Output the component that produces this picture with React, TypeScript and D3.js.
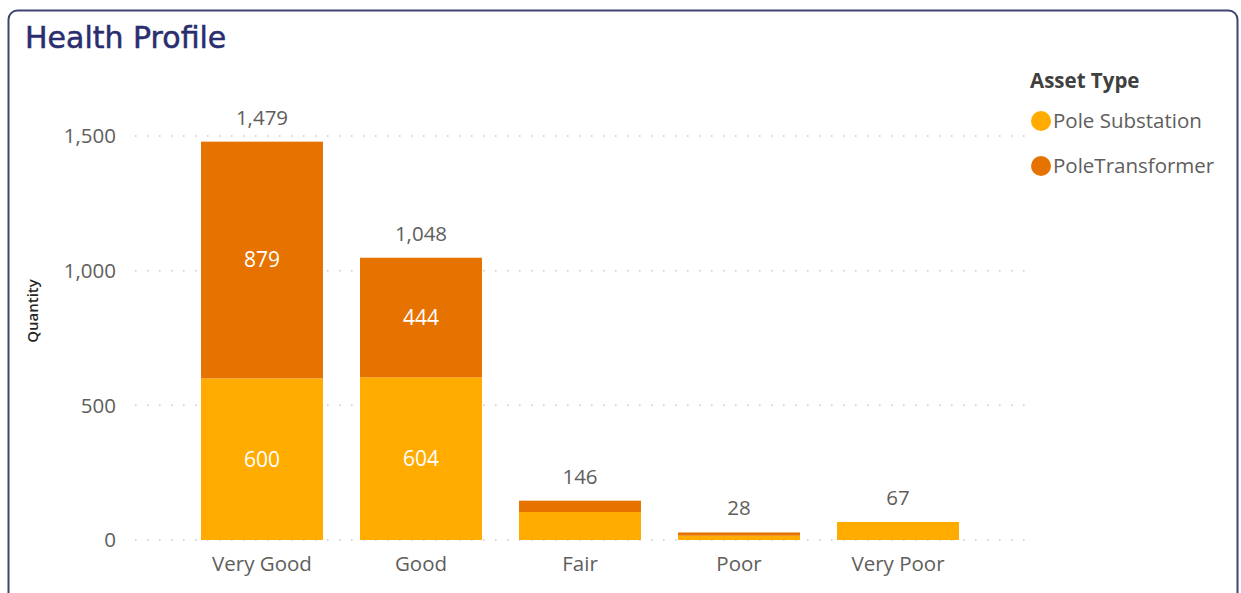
import React from "react";
import * as d3 from "d3";

const categories = ["Very Good", "Good", "Fair", "Poor", "Very Poor"];
const poleSubstation = [600, 604, 104, 16, 67];
const poleTransformer = [879, 444, 42, 12, 0];
const totals = [1479, 1048, 146, 28, 67];
const yTicks = [0, 500, 1000, 1500];
const seriesNames = ["Pole Substation", "PoleTransformer"];
const seriesColors = ["#FFAB00", "#E67300"];

const W = 1241;
const H = 593;
const FONT = "'Open Sans', 'Noto Sans', sans-serif";
const FS = 20.5;

export default function App() {
  const x = d3
    .scaleBand<string>()
    .domain(categories)
    .range([182.5, 977.5])
    .paddingInner(0.233)
    .paddingOuter(0.1165);
  const y = d3.scaleLinear().domain([0, 1500]).range([540, 136]);
  const fmt = d3.format(",");

  const rows = categories.map((c, i) => ({
    cat: c,
    "Pole Substation": poleSubstation[i],
    PoleTransformer: poleTransformer[i],
  }));
  const stacked = d3.stack<any>().keys(seriesNames)(rows);

  return (
    <svg
      width={W}
      height={H}
      style={{ position: "fixed", left: 0, top: 0, background: "#fff" }}
    >
      <rect
        x={8.5}
        y={10.5}
        width={1229}
        height={640}
        rx={9}
        fill="#fff"
        stroke="#3E4372"
        strokeWidth={2}
      />
      <text
        x={25}
        y={48}
        fontFamily="'DejaVu Sans', sans-serif"
        fontSize={30}
        fill="#2A2D6E"
        stroke="#2A2D6E"
        strokeWidth={0.5}
      >
        Health Profile
      </text>

      {/* gridlines */}
      {yTicks.map((t) => (
        <g key={t}>
          <line
            x1={135}
            x2={1028}
            y1={y(t)}
            y2={y(t)}
            stroke="#C8C8C8"
            strokeWidth={1.5}
            strokeDasharray="1.5,10.5"
          />
          <text
            x={116}
            y={y(t)}
            dy="0.35em"
            textAnchor="end"
            fontFamily={FONT}
            fontSize={FS}
            fill="#605E5C"
          >
            {fmt(t)}
          </text>
        </g>
      ))}

      <text
        transform={`translate(38,311) rotate(-90)`}
        textAnchor="middle"
        fontFamily={FONT}
        fontSize={15}
        fontWeight={600}
        fill="#252423"
      >
        Quantity
      </text>

      {/* bars */}
      {stacked.map((s, si) => (
        <g key={s.key}>
          {s.map((d, i) => {
            const h = y(d[0]) - y(d[1]);
            const bx = x(categories[i])!;
            const val = d[1] - d[0];
            return (
              <g key={i}>
                {val > 0 && (
                  <rect
                    x={bx}
                    y={y(d[1])}
                    width={x.bandwidth()}
                    height={h}
                    fill={seriesColors[si]}
                  />
                )}
                {h > 40 && (
                  <text
                    x={bx + x.bandwidth() / 2}
                    y={(y(d[0]) + y(d[1])) / 2}
                    dy="0.35em"
                    textAnchor="middle"
                    fontFamily={FONT}
                    fontSize={21}
                    fontWeight={500}
                    fill="#fff"
                  >
                    {fmt(val)}
                  </text>
                )}
              </g>
            );
          })}
        </g>
      ))}

      {/* totals */}
      {categories.map((c, i) => (
        <text
          key={c}
          x={x(c)! + x.bandwidth() / 2}
          y={y(totals[i]) - 17}
          textAnchor="middle"
          fontFamily={FONT}
          fontSize={FS}
          fill="#605E5C"
        >
          {fmt(totals[i])}
        </text>
      ))}

      {/* x labels */}
      {categories.map((c) => (
        <text
          key={c}
          x={x(c)! + x.bandwidth() / 2}
          y={571}
          textAnchor="middle"
          fontFamily={FONT}
          fontSize={FS}
          fill="#605E5C"
        >
          {c}
        </text>
      ))}

      {/* legend */}
      <text
        x={1030}
        y={88}
        fontFamily={FONT}
        fontSize={20.5}
        fontWeight="bold"
        fill="#404040"
      >
        Asset Type
      </text>
      {seriesNames.map((n, i) => (
        <g key={n}>
          <circle cx={1041} cy={121 + i * 45} r={10} fill={seriesColors[i]} />
          <text
            x={1053}
            y={121 + i * 45}
            dy="0.35em"
            fontFamily={FONT}
            fontSize={FS}
            fill="#605E5C"
          >
            {n}
          </text>
        </g>
      ))}
    </svg>
  );
}
